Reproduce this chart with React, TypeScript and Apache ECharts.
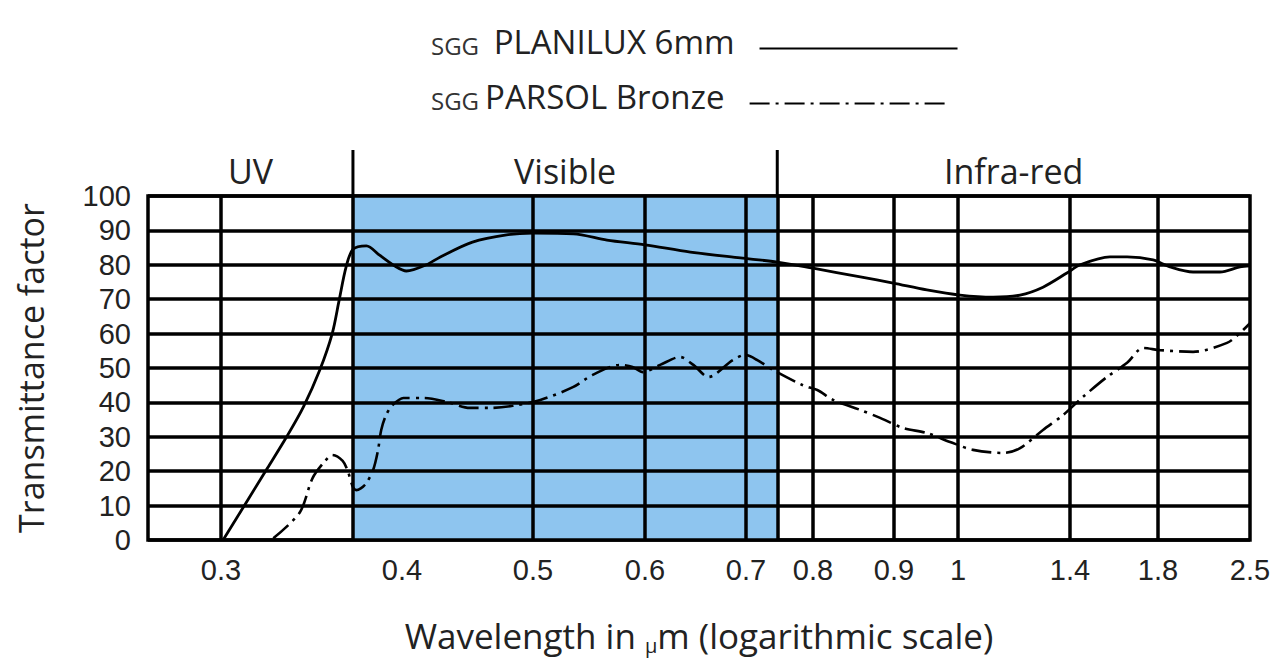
import React, { useEffect, useRef } from "react";
import * as echarts from "echarts";

// ---------- data ----------
const SERIES_A = "SGG PLANILUX 6mm";
const SERIES_B = "SGGPARSOL Bronze";

// labelled ticks of the (hand-drawn) logarithmic wavelength axis, in µm
const TICK_WL = [0.3, 0.4, 0.5, 0.6, 0.7, 0.8, 0.9, 1, 1.4, 1.8, 2.5];
const TICK_LABELS = ["0.3", "0.4", "0.5", "0.6", "0.7", "0.8", "0.9", "1", "1.4", "1.8", "2.5"];
// wavelengths that carry a vertical rule (0.4 has none in the reference)
const GRID_WL = [0.3, 0.5, 0.6, 0.7, 0.8, 0.9, 1, 1.4, 1.8];
const REGION_NAMES = ["UV", "Visible", "Infra-red"];
const VISIBLE_FROM = 0.37;
const VISIBLE_TO = 0.745;
const Y_TICKS_MAX = 100;

const planiluxWl = [0.301, 0.323, 0.333, 0.342, 0.351, 0.358, 0.362, 0.366, 0.37, 0.378, 0.386, 0.396, 0.403, 0.417, 0.427, 0.451, 0.478, 0.5, 0.534, 0.564, 0.6, 0.643, 0.694, 0.745, 0.8, 0.857, 0.899, 0.95, 1.006, 1.111, 1.205, 1.291, 1.387, 1.441, 1.569, 1.648, 1.775, 1.879, 2.04, 2.246, 2.412, 2.5];
const planiluxT = [0, 20.9, 30, 38.7, 49.4, 60, 69.8, 79.4, 84.5, 85.5, 82.8, 79.5, 78.2, 80, 82.3, 86.6, 88.7, 89.2, 89, 87.2, 85.8, 83.7, 82, 80.8, 79, 76.5, 74.7, 72.7, 71.2, 70.6, 71.2, 73.5, 77.6, 80, 82.3, 82.3, 81.4, 79.4, 77.9, 77.9, 79.4, 79.7];

const bronzeWl = [0.326, 0.34, 0.347, 0.354, 0.358, 0.364, 0.367, 0.37, 0.372, 0.377, 0.382, 0.385, 0.387, 0.39, 0.394, 0.401, 0.415, 0.432, 0.449, 0.465, 0.483, 0.506, 0.534, 0.551, 0.576, 0.588, 0.598, 0.614, 0.633, 0.646, 0.661, 0.686, 0.699, 0.716, 0.739, 0.784, 0.805, 0.824, 0.857, 0.882, 0.913, 0.95, 0.987, 1.046, 1.145, 1.205, 1.291, 1.371, 1.453, 1.556, 1.648, 1.725, 1.813, 2.04, 2.303, 2.412, 2.5];
const bronzeT = [0.5, 8, 18, 23, 24.7, 23, 20, 15.4, 14.5, 16, 20.3, 26, 32, 36.3, 39.2, 41.3, 41.3, 40.1, 38.4, 38.4, 39, 40.7, 44.5, 48, 50.9, 50.3, 48.8, 50.9, 53.2, 50.9, 47.4, 52.3, 53.8, 52.3, 49.4, 45, 43.6, 40.7, 37.8, 35.5, 32.6, 31.1, 28.5, 26.2, 25.3, 26.7, 32, 36.3, 41.6, 47.4, 51.5, 55.8, 55.2, 54.7, 57.3, 60.2, 63];

// ---------- axis scale (the reference's axis is log-like but unevenly drawn) ----------
// position of each labelled tick along the drawn axis, in axis units
const TICK_AXIS_UNITS = [73, 254, 385, 497, 598, 665, 746, 810, 922, 1010, 1102];
const AXIS_MIN = 0;
const AXIS_MAX = 1102;

function axisPos(w: number): number {
  let i = 0;
  while (i < TICK_WL.length - 2 && w > TICK_WL[i + 1]) i++;
  const w0 = TICK_WL[i], w1 = TICK_WL[i + 1];
  const p0 = TICK_AXIS_UNITS[i], p1 = TICK_AXIS_UNITS[i + 1];
  return p0 + ((p1 - p0) * Math.log(w / w0)) / Math.log(w1 / w0);
}

function tickLabel(v: number): string {
  let best = 0;
  let bd = Infinity;
  TICK_WL.forEach((w, i) => {
    const d = Math.abs(axisPos(w) - v);
    if (d < bd) { bd = d; best = i; }
  });
  return TICK_LABELS[best];
}

const FONT = "'Open Sans', 'Noto Sans', sans-serif";
const TICK_FONT = "'Liberation Sans', Arial, sans-serif";
const TEXT = "#222";
const BLUE = "#8ec5ef";
const RULE = 3.5;
const BRONZE_DASH = [20, 6, 3, 6];

function legendFor(name: string, top: number) {
  return {
    data: [name],
    orient: "horizontal",
    left: 426,
    top,
    align: "right",
    itemWidth: 198,
    itemHeight: 14,
    selectedMode: false,
    itemStyle: { opacity: 0, color: "rgba(0,0,0,0)", borderColor: "rgba(0,0,0,0)", borderWidth: 0 },
    formatter: (n: string) =>
      n === SERIES_A ? "{s|SGG}{b| PLANILUX 6mm}" : "{s|SGG}{b|PARSOL Bronze}",
    textStyle: {
      fontFamily: FONT,
      rich: {
        s: { fontSize: 24, lineHeight: 36, color: "#333", fontFamily: FONT, padding: [0, 6, 7, 0] },
        b: { fontSize: 33, lineHeight: 36, color: TEXT, fontFamily: FONT, padding: [0, 20, 14, 0] },
      },
    },
  };
}

export default function App() {
  const ref = useRef<HTMLDivElement>(null);

  useEffect(() => {
    if (!ref.current) return;
    const chart = echarts.init(ref.current, null, { renderer: "svg" });

    const pts = (wl: number[], t: number[]) => wl.map((w, i) => [axisPos(w), t[i]]);
    const transparent = "rgba(0,0,0,0)";

    const option: any = {
      animation: false,
      backgroundColor: "#fff",
      textStyle: { fontFamily: FONT },
      grid: {
        left: 148, right: 27, top: 196, bottom: 125,
        show: true, borderColor: "#000", borderWidth: RULE, backgroundColor: transparent,
      },
      legend: [legendFor(SERIES_A, 20), legendFor(SERIES_B, 75)],
      xAxis: {
        type: "value",
        min: AXIS_MIN,
        max: AXIS_MAX,
        axisLine: { show: false },
        axisTick: { show: false },
        splitLine: { show: false },
        axisLabel: {
          customValues: TICK_WL.map(axisPos),
          formatter: (v: number) => tickLabel(v),
          fontSize: 29,
          color: TEXT,
          margin: 15,
          fontFamily: TICK_FONT,
        },
        name: "Wavelength in {mu|μ}m (logarithmic scale)",
        nameLocation: "middle",
        nameGap: 75,
        nameTextStyle: {
          fontSize: 35,
          color: TEXT,
          fontFamily: FONT,
          rich: {
            mu: { fontSize: 20, color: TEXT, fontFamily: FONT, padding: [20, 0, 0, 0] },
          },
        },
      },
      yAxis: {
        type: "value",
        min: 0,
        max: Y_TICKS_MAX,
        interval: 10,
        z: 2,
        axisLine: { show: false },
        axisTick: { show: false },
        splitLine: { show: true, lineStyle: { color: "#000", width: RULE } },
        axisLabel: { fontSize: 29, lineHeight: 29, color: TEXT, margin: 17, fontFamily: TICK_FONT },
        name: "Transmittance factor",
        nameLocation: "middle",
        nameRotate: 90,
        nameGap: 100,
        nameTextStyle: { fontSize: 34, color: TEXT, fontFamily: FONT },
      },
      series: [
        {
          type: "line",
          name: "regions",
          data: [],
          silent: true,
          markArea: {
            silent: true,
            label: { show: true, position: "top", distance: 8, fontSize: 34, color: TEXT, fontFamily: FONT },
            data: [
              [{ name: REGION_NAMES[0], xAxis: AXIS_MIN, itemStyle: { color: transparent } }, { xAxis: axisPos(VISIBLE_FROM) }],
              [{ name: REGION_NAMES[1], xAxis: axisPos(VISIBLE_FROM), itemStyle: { color: BLUE } }, { xAxis: axisPos(VISIBLE_TO) }],
              [{ name: REGION_NAMES[2], xAxis: axisPos(VISIBLE_TO), itemStyle: { color: transparent } }, { xAxis: AXIS_MAX }],
            ],
          },
          markLine: {
            silent: true,
            symbol: ["none", "none"],
            label: { show: false },
            lineStyle: { color: "#000", width: RULE, type: "solid" },
            data: [...GRID_WL, VISIBLE_FROM, VISIBLE_TO].map((w) => ({ xAxis: axisPos(w) })),
          },
        },
        {
          type: "line",
          name: SERIES_A,
          data: pts(planiluxWl, planiluxT),
          smooth: 0.3,
          symbol: "none",
          z: 6,
          lineStyle: { color: "#000", width: 2.8 },
          itemStyle: { color: "#000" },
        },
        {
          type: "line",
          name: SERIES_B,
          data: pts(bronzeWl, bronzeT),
          smooth: 0.3,
          symbol: "none",
          z: 6,
          lineStyle: { color: "#000", width: 2.6, type: BRONZE_DASH },
          itemStyle: { color: "#000" },
        },
      ],
    };

    chart.setOption(option);

    const yTop = chart.convertToPixel({ yAxisIndex: 0 }, Y_TICKS_MAX) as number;
    const xs = [VISIBLE_FROM, VISIBLE_TO].map(
      (w) => chart.convertToPixel({ xAxisIndex: 0 }, axisPos(w)) as number
    );
    chart.setOption({
      graphic: xs.map((x) => ({
        type: "line",
        silent: true,
        shape: { x1: x, y1: yTop - 46, x2: x, y2: yTop },
        style: { stroke: "#000", lineWidth: 3 },
      })),
    });

    return () => chart.dispose();
  }, []);

  return (
    <div
      ref={ref}
      style={{ position: "fixed", left: 0, top: 0, width: 1277, height: 665, background: "#fff" }}
    />
  );
}
